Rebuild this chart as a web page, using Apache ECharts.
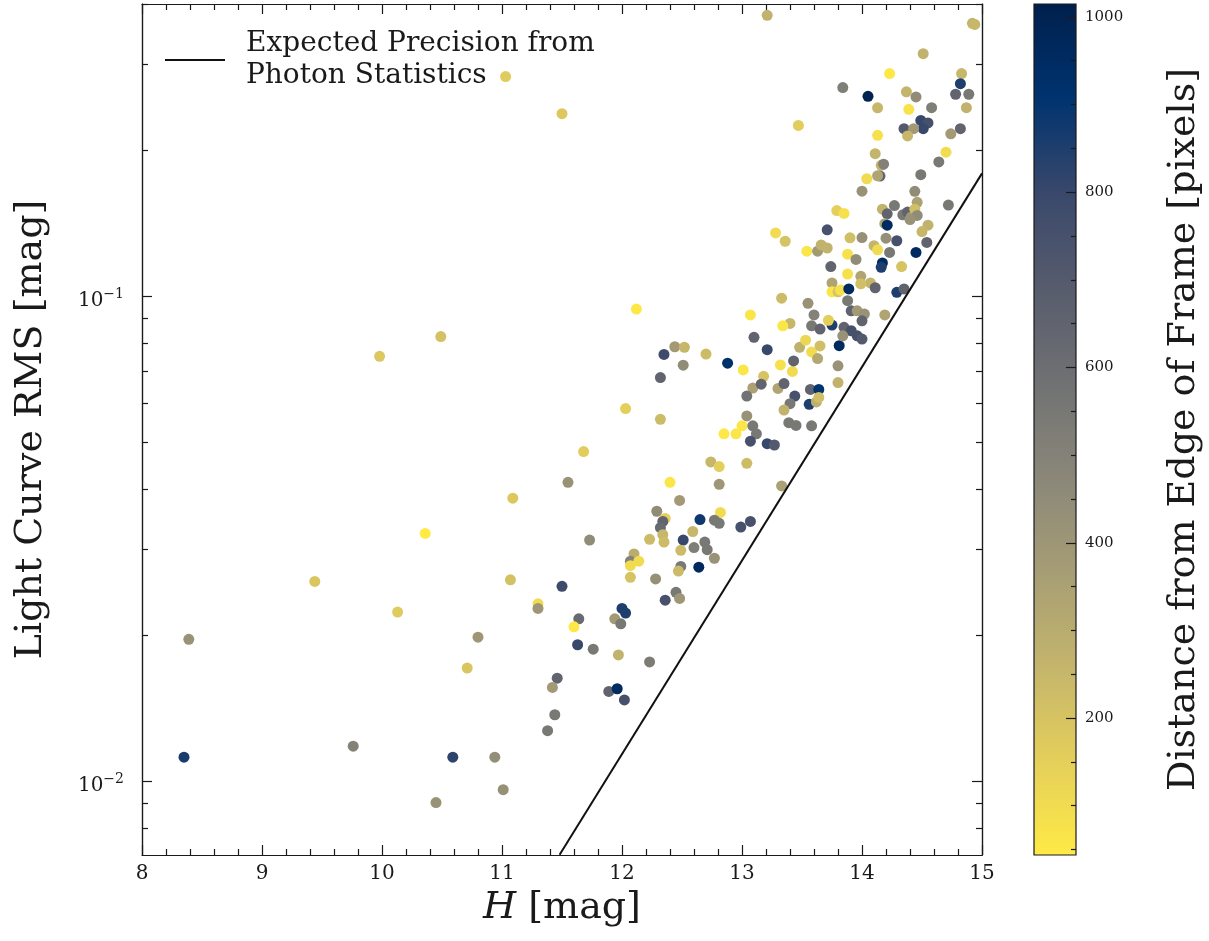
<!DOCTYPE html>
<html>
<head>
<meta charset="utf-8">
<script src="https://cdn.jsdelivr.net/npm/echarts@6/dist/echarts.min.js"></script>
<style>
  html, body { margin: 0; padding: 0; background: #ffffff; }
  #chart { width: 1209px; height: 941px; }
</style>
</head>
<body>
<div id="chart"></div>
<script>
// H magnitude of each star
const hMag = [
  8.35, 8.39, 9.44, 9.76, 9.98, 10.13, 10.36, 10.49, 10.45, 10.59, 10.71, 10.80, 10.94, 11.01, 11.03, 11.50,
  12.12, 12.35, 12.44, 12.52, 12.51, 12.32, 12.03, 12.32, 11.68, 11.55, 12.40, 11.09, 12.48, 12.29, 12.36, 12.34,
  12.32, 12.34, 12.35, 12.23, 12.59, 12.65, 12.51, 12.49, 12.60, 12.10, 12.07, 12.14, 12.07, 12.07, 12.28, 12.49,
  12.47, 12.64, 12.45, 12.48, 12.36, 11.07, 11.50, 11.30, 11.30, 12.00, 12.03, 11.94, 11.99, 11.64, 11.60, 11.63,
  11.76, 11.97, 12.23, 11.46, 11.42, 11.89, 11.96, 12.02, 11.44, 11.73, 11.38,
  13.75, 13.75, 13.80, 13.33, 13.55, 13.07, 13.60, 13.40, 13.34, 13.58, 13.65, 13.75, 13.72, 13.10, 13.21, 12.70,
  12.88, 13.01, 13.32, 13.42, 13.43, 13.48, 13.53, 13.58, 13.65, 13.63, 13.81, 13.80, 13.80, 13.18, 13.09, 13.16,
  13.04, 13.30, 13.35, 13.57, 13.64, 13.44, 13.40, 13.56, 13.62, 13.64, 13.35, 13.04, 13.00, 13.09, 12.95, 12.85,
  13.12, 13.07, 13.21, 13.27, 13.39, 13.45, 13.58, 12.74, 12.81, 13.04, 12.81, 13.33, 12.82,
  12.77, 12.81, 12.99, 13.07, 12.69, 12.71, 12.77,
  13.21, 13.47, 13.84, 13.79, 13.28, 13.36, 13.71, 13.54, 13.63, 13.66, 13.71, 13.74,
  14.92, 14.94, 14.51, 14.23, 14.83, 14.05, 14.82, 14.78, 14.89, 14.37, 14.45, 14.13, 14.39, 14.58, 14.87, 14.49,
  14.55, 14.51, 14.35, 14.43, 14.38, 14.82, 14.74, 14.13,
  14.70, 14.64, 14.11, 14.16, 14.18, 14.15, 14.13, 14.04, 14.49, 14.00, 14.44, 14.46, 14.72, 13.85, 14.17, 14.21,
  14.27, 14.34, 14.38, 14.41, 14.44, 14.46, 14.40, 14.19, 14.21, 14.55, 14.50, 13.90, 14.00, 14.20, 14.29, 14.54,
  14.10, 14.13, 13.88, 13.95, 14.23, 14.45, 14.17, 14.16, 14.33, 13.88, 13.99, 14.07, 14.11, 13.82, 13.89, 13.99,
  14.29, 14.35,
  13.88, 13.91, 13.96, 14.02, 14.00, 14.19, 13.85, 13.91, 13.96, 14.00, 13.84
];

// light curve RMS [mag]
const rmsMag = [
  0.0112, 0.0196, 0.0258, 0.0118, 0.0751, 0.0223, 0.0324, 0.0825, 0.00903, 0.0112, 0.0171, 0.0198, 0.0112, 0.0096, 0.2835, 0.2377,
  0.094, 0.0758, 0.0786, 0.0784, 0.0720, 0.0679, 0.0586, 0.0557, 0.0478, 0.0413, 0.0413, 0.0383, 0.0379, 0.0360, 0.0348, 0.0343,
  0.0333, 0.0322, 0.0311, 0.0315, 0.0327, 0.0346, 0.0314, 0.0299, 0.0303, 0.0294, 0.0284, 0.0284, 0.0278, 0.0263, 0.0261, 0.0277,
  0.0271, 0.0276, 0.0245, 0.0238, 0.0236, 0.0260, 0.0252, 0.0232, 0.0227, 0.0227, 0.0222, 0.0216, 0.0211, 0.0216, 0.0208, 0.0191,
  0.0187, 0.0182, 0.0176, 0.0163, 0.0156, 0.0153, 0.0155, 0.0147, 0.0137, 0.0314, 0.0127,
  0.1064, 0.102, 0.102, 0.099, 0.0966, 0.0914, 0.0914, 0.0878, 0.0868, 0.0868, 0.0855, 0.0871, 0.0891, 0.0822, 0.0775, 0.0759,
  0.0727, 0.0704, 0.0721, 0.0699, 0.0735, 0.0784, 0.0811, 0.0767, 0.0789, 0.0743, 0.0790, 0.0718, 0.0663, 0.0683, 0.0646, 0.0658,
  0.0622, 0.0645, 0.0660, 0.0642, 0.0642, 0.0622, 0.0600, 0.0598, 0.0605, 0.0618, 0.0582, 0.0566, 0.0540, 0.0540, 0.0520, 0.0520,
  0.0520, 0.0502, 0.0496, 0.0493, 0.0548, 0.0541, 0.0540, 0.0455, 0.0445, 0.0452, 0.0409, 0.0406, 0.0358,
  0.0345, 0.0340, 0.0334, 0.0343, 0.0311, 0.0300, 0.0288,
  0.379, 0.2248, 0.269, 0.150, 0.1349, 0.1297, 0.1369, 0.1237, 0.1237, 0.1274, 0.1256, 0.1150,
  0.365, 0.363, 0.316, 0.2875, 0.2875, 0.258, 0.274, 0.2606, 0.2606, 0.2636, 0.2573, 0.2443, 0.2426, 0.2445, 0.2445, 0.2302,
  0.2274, 0.2213, 0.2213, 0.2213, 0.2138, 0.2213, 0.216, 0.2144,
  0.198, 0.189, 0.1965, 0.186, 0.187, 0.1767, 0.177, 0.1745, 0.1779, 0.1645, 0.1644, 0.156, 0.154, 0.148, 0.151, 0.1477,
  0.1536, 0.147, 0.149, 0.1454, 0.151, 0.1466, 0.1438, 0.141, 0.140, 0.140, 0.1358, 0.1318, 0.132, 0.1316, 0.130, 0.129,
  0.127, 0.1245, 0.122, 0.119, 0.123, 0.123, 0.117, 0.1146, 0.115, 0.111, 0.1098, 0.1064, 0.104, 0.1029, 0.1034, 0.106,
  0.1018, 0.1034,
  0.0978, 0.0932, 0.0932, 0.0918, 0.0889, 0.0914, 0.0862, 0.0848, 0.0828, 0.0815, 0.0828
];

// distance of each star from the edge of the frame [pixels]
const edgeDist = [
  860, 420, 190, 500, 180, 170, 45, 210, 420, 820, 190, 400, 440, 430, 170, 180,
  50, 780, 380, 250, 450, 650, 150, 230, 160, 420, 60, 180, 380, 450, 150, 650,
  620, 250, 230, 230, 250, 880, 800, 230, 520, 300, 500, 100, 100, 200, 430, 550,
  240, 960, 550, 400, 750, 210, 780, 100, 400, 850, 850, 380, 550, 620, 50, 800,
  550, 270, 530, 650, 380, 650, 950, 750, 550, 450, 550,
  330, 60, 200, 230, 420, 60, 500, 250, 60, 550, 650, 850, 150, 650, 800, 230,
  920, 60, 80, 100, 650, 280, 120, 100, 220, 320, 950, 420, 270, 200, 350, 650,
  580, 330, 650, 650, 900, 750, 550, 850, 280, 220, 270, 420, 60, 550, 60, 50,
  550, 750, 800, 700, 550, 550, 550, 250, 150, 230, 400, 350, 100,
  550, 550, 750, 750, 550, 550, 420,
  270, 160, 520, 150, 100, 200, 750, 60, 380, 270, 270, 650,
  260, 250, 270, 50, 250, 1000, 850, 650, 550, 260, 450, 250, 70, 520, 270, 800,
  750, 800, 700, 380, 250, 650, 380, 80,
  100, 550, 260, 260, 500, 650, 330, 100, 550, 420, 450, 350, 550, 80, 270, 650,
  550, 550, 650, 380, 220, 450, 420, 350, 950, 270, 250, 220, 430, 430, 750, 650,
  260, 100, 80, 450, 550, 950, 950, 850, 200, 80, 330, 260, 650, 80, 950, 220,
  850, 650,
  550, 650, 380, 420, 650, 330, 650, 750, 750, 700, 420
];

// expected precision from photon statistics (straight line in log RMS)
const photonH = [11.48, 15.0];
const photonRms = [0.00705, 0.179];

// axis ranges and tick values
const hRange = [8, 15];
const rmsRange = [0.00704, 0.400];
const rmsMajorTicks = [0.01, 0.1];
const rmsMinorTicks = [0.008, 0.009, 0.02, 0.03, 0.04, 0.05, 0.06, 0.07, 0.08, 0.09, 0.2, 0.3, 0.4];
const distRange = [43.8, 1014.6];
const distMajorTicks = [200, 400, 600, 800, 1000];
const distMinorTicks = [50, 100, 150, 250, 300, 350, 450, 500, 550, 650, 700, 750, 850, 900, 950];

// cividis, ordered from low distance (yellow) to high distance (navy)
const cividisR = ['#FFEA46', '#E4CF5B', '#C4B56C', '#A69D75', '#8A8779', '#707173', '#575C6D', '#39486B', '#00336F', '#00204D'];

const FONT = 'DejaVu Serif';
const INK = '#1a1a1a';
const frameLine = { color: INK, width: 1.2 };

const points = hMag.map((h, i) => [h, rmsMag[i], edgeDist[i]]);
const photonLine = photonH.map((h, i) => [h, photonRms[i]]);

const supLabel = v => '{b|10}{e|\u2212' + Math.round(-Math.log10(v)) + '}';
const supRich = {
  b: { fontFamily: FONT, fontSize: 20, color: INK, verticalAlign: 'bottom', lineHeight: 30 },
  e: { fontFamily: FONT, fontSize: 14, color: INK, verticalAlign: 'bottom', lineHeight: 30, padding: [0, 0, 10, 0] }
};

function logAxis(position, ticks, tickLen, withLabels, extra) {
  return Object.assign({
    type: 'log', logBase: 10, gridIndex: 0, position: position,
    min: rmsRange[0], max: rmsRange[1],
    axisLine: { show: true, onZero: false, lineStyle: frameLine },
    axisTick: { show: true, inside: true, length: tickLen, customValues: ticks, lineStyle: frameLine },
    axisLabel: withLabels
      ? { show: true, customValues: ticks, formatter: supLabel, rich: supRich, margin: 18 }
      : { show: false },
    minorTick: { show: false },
    splitLine: { show: false }
  }, extra || {});
}

function hAxis(position, withLabels, extra) {
  return Object.assign({
    type: 'value', gridIndex: 0, position: position,
    min: hRange[0], max: hRange[1], interval: 1,
    axisLine: { show: true, onZero: false, lineStyle: frameLine },
    axisTick: { show: true, inside: true, length: 10, lineStyle: frameLine },
    minorTick: { show: true, splitNumber: 5, length: 6, lineStyle: frameLine },
    axisLabel: withLabels
      ? { show: true, fontFamily: FONT, fontSize: 20, color: INK, margin: 9 }
      : { show: false },
    splitLine: { show: false }
  }, extra || {});
}

function distAxis(ticks, tickLen, withLabels, extra) {
  return Object.assign({
    type: 'value', gridIndex: 1, position: 'right', z: 10,
    min: distRange[0], max: distRange[1],
    axisLine: { show: false, onZero: false },
    axisTick: { show: true, inside: true, length: tickLen, customValues: ticks, lineStyle: frameLine },
    axisLabel: withLabels
      ? { show: true, customValues: ticks, formatter: v => String(Math.round(v)),
          fontFamily: FONT, fontSize: 15, color: INK, margin: 9 }
      : { show: false },
    splitLine: { show: false }
  }, extra || {});
}

const chart = echarts.init(document.getElementById('chart'), null, { renderer: 'canvas' });

chart.setOption({
  animation: false,
  backgroundColor: '#ffffff',
  grid: [
    { left: 142, top: 4, width: 840, height: 851 },
    { left: 1034, top: 4, width: 42, height: 851 }
  ],
  legend: {
    left: 160, top: 23,
    itemWidth: 60, itemHeight: 2,
    selectedMode: false,
    data: [{ name: 'Expected Precision from\nPhoton Statistics', icon: 'rect' }],
    textStyle: { fontFamily: FONT, fontSize: 28, color: INK, lineHeight: 32, padding: [0, 0, 0, 16] }
  },
  visualMap: {
    type: 'continuous', show: false,
    min: distRange[0], max: distRange[1],
    dimension: 2, seriesIndex: 0,
    inRange: { color: cividisR }
  },
  xAxis: [
    hAxis('bottom', true, {
      name: '{i|H} [mag]', nameLocation: 'middle', nameGap: 28,
      nameTextStyle: {
        fontFamily: FONT, fontSize: 38, color: INK,
        rich: { i: { fontFamily: FONT, fontSize: 38, fontStyle: 'italic', color: INK } }
      }
    }),
    hAxis('top', false),
    { type: 'value', gridIndex: 1, min: 0, max: 1, show: false, axisLine: { onZero: false } }
  ],
  yAxis: [
    logAxis('left', rmsMajorTicks, 10, true, {
      name: 'Light Curve RMS [mag]', nameLocation: 'middle', nameRotate: 90, nameGap: 92,
      nameTextStyle: { fontFamily: FONT, fontSize: 38, color: INK }
    }),
    logAxis('left', rmsMinorTicks, 6, false),
    logAxis('right', rmsMajorTicks, 10, false),
    logAxis('right', rmsMinorTicks, 6, false),
    distAxis(distMajorTicks, 10, true, {
      name: 'Distance from Edge of Frame [pixels]', nameLocation: 'middle', nameRotate: 90, nameGap: 89,
      nameTextStyle: { fontFamily: FONT, fontSize: 38, color: INK }
    }),
    distAxis(distMinorTicks, 5, false)
  ],
  series: [
    {
      type: 'scatter',
      xAxisIndex: 0, yAxisIndex: 0,
      data: points,
      symbol: 'circle',
      symbolSize: 11,
      itemStyle: { opacity: 1 },
      z: 2
    },
    {
      name: 'Expected Precision from\nPhoton Statistics',
      type: 'line',
      xAxisIndex: 0, yAxisIndex: 0,
      data: photonLine,
      symbol: 'none',
      lineStyle: { color: '#111111', width: 2 },
      itemStyle: { color: '#111111' },
      z: 3
    },
    {
      // colour bar: one gradient rectangle spanning the distance range
      type: 'custom',
      xAxisIndex: 2, yAxisIndex: 4,
      data: [[distRange[0], distRange[1]]],
      silent: true,
      renderItem: function (params, api) {
        const p0 = api.coord([0, api.value(0)]);
        const p1 = api.coord([1, api.value(1)]);
        const stops = cividisR.map((c, i) => ({ offset: i / (cividisR.length - 1), color: c }));
        return {
          type: 'rect',
          shape: { x: p0[0], y: p1[1], width: p1[0] - p0[0], height: p0[1] - p1[1] },
          style: {
            fill: new echarts.graphic.LinearGradient(0, 1, 0, 0, stops),
            stroke: INK, lineWidth: 1.2
          }
        };
      },
      z: 1
    }
  ]
});
</script>
</body>
</html>
